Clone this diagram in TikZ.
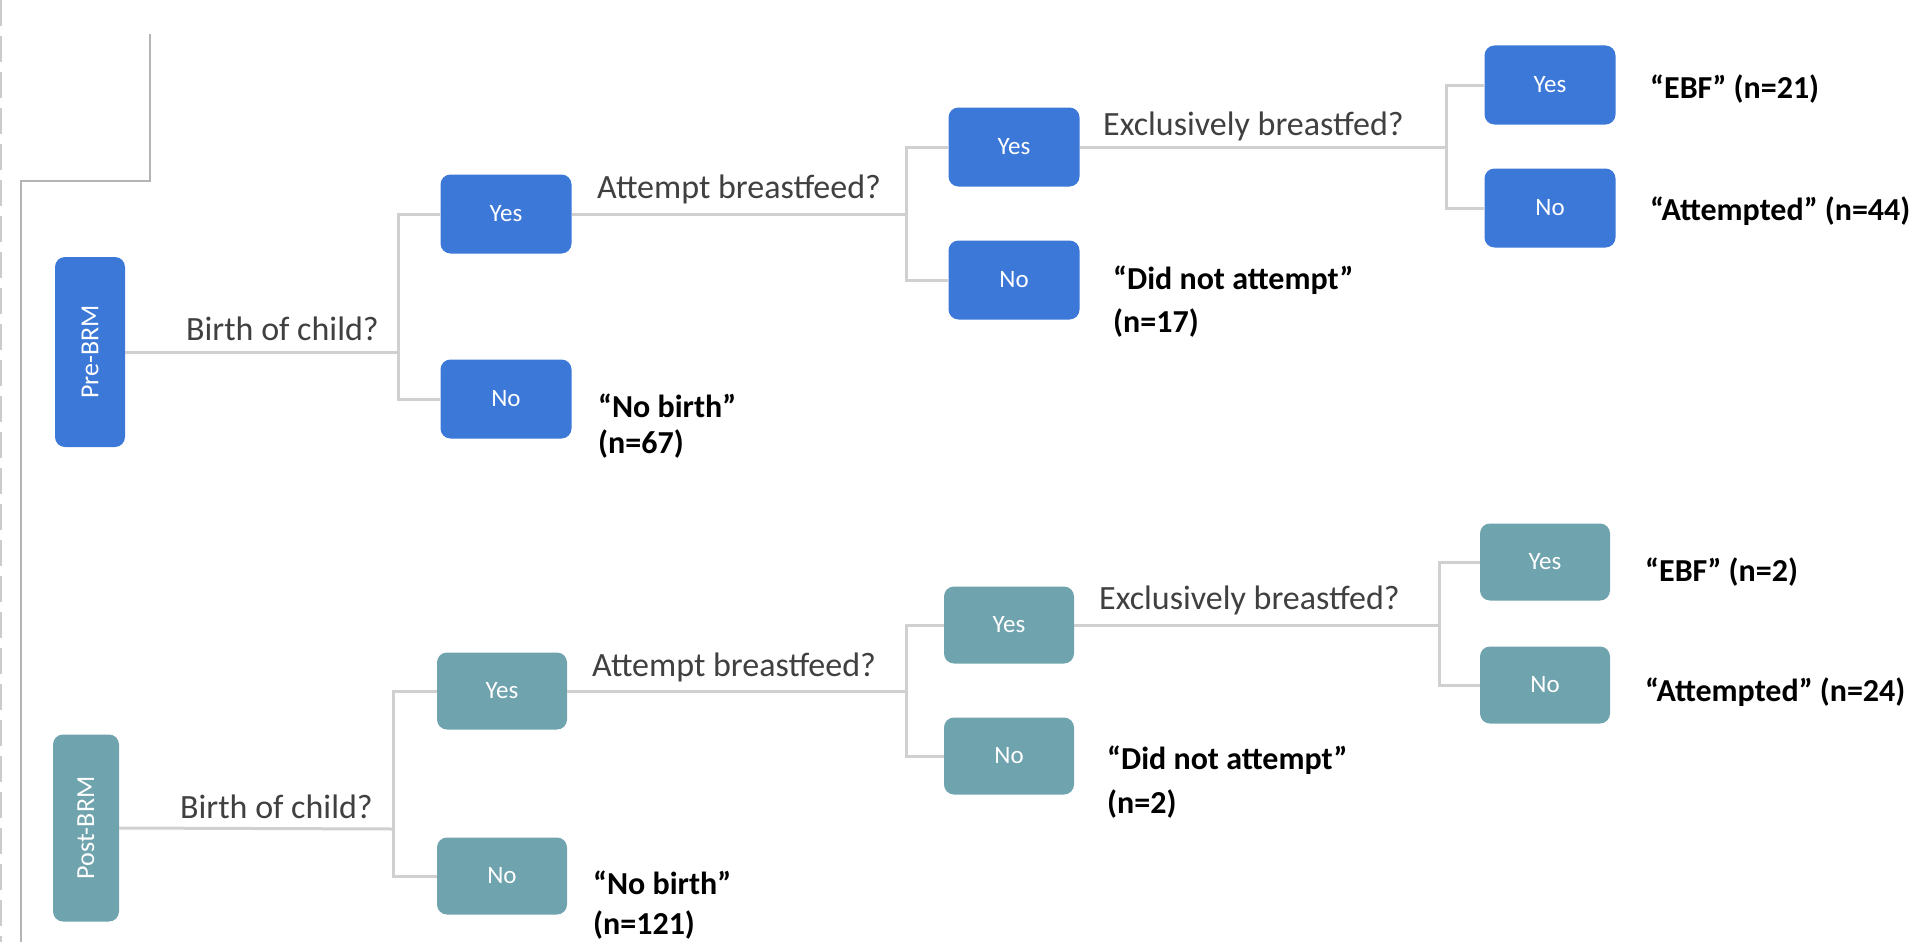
\documentclass[tikz,border=0pt]{standalone}
\usepackage{fontspec}
\usepackage{graphicx}
\setmainfont{Carlito}
\definecolor{bluebox}{HTML}{3C78D8}
\definecolor{tealbox}{HTML}{6FA3AE}
\definecolor{connline}{HTML}{D0D0D0}
\definecolor{frameg}{HTML}{B4B4B4}
\definecolor{qgray}{HTML}{404040}
\tikzset{
  choicebox/.style={rectangle, rounded corners=10pt, minimum width=131pt, minimum height=79pt,
    text=white, inner sep=0pt, font=\fontsize{25}{30}\selectfont},
  bluech/.style={choicebox, fill=bluebox},
  tealch/.style={choicebox, fill=tealbox},
  phasebox/.style={rectangle, rounded corners=10pt, minimum width=68pt, minimum height=188pt,
    text=white, inner sep=0pt, font=\fontsize{26}{30}\selectfont},
  qtext/.style={anchor=base west, inner sep=0pt, text=qgray, font=\fontsize{34}{44}\selectfont},
  restext/.style={anchor=base west, inner sep=0pt, text=black, font=\fontsize{32}{44}\selectfont\bfseries},
  restwo/.style={anchor=north west, inner sep=0pt, align=left, text=black},
  conn/.style={draw=connline, line width=3pt},
  frameline/.style={draw=frameg, line width=1.5pt}
}
\begin{document}
\begin{tikzpicture}[x=1pt,y=-1pt]
\useasboundingbox (0,0) rectangle (1921,942);
\fill[white] (0,0) rectangle (1921,942);
% page edge and frame
\draw[draw=frameg!70, line width=2.5pt, dash pattern=on 26pt off 10pt] (1,0) -- (1,942);
\draw[frameline] (150,34) |- (21,181) -- (21,942);

% ---------- Pre-BRM ----------
\node[phasebox, fill=bluebox, minimum width=70pt, minimum height=190pt] (pre) at (90,352) {\rotatebox{90}{Pre-BRM}};
\node[bluech] (yes1) at (506,214) {Yes};
\node[bluech] (no1) at (506,399) {No};
\node[bluech] (yes2) at (1014,147) {Yes};
\node[bluech] (no2) at (1014,280) {No};
\node[bluech] (yes3) at (1550,85) {Yes};
\node[bluech] (no3) at (1550,208) {No};

\coordinate (j1) at (398,352);
\coordinate (j2) at (906,214);
\coordinate (j3) at (1446,147);
\draw[conn] (pre.east) -- (j1);
\draw[conn] (yes1.west) -| (j1) |- (no1.west);
\draw[conn] (yes1.east) -- (j2);
\draw[conn] (yes2.west) -| (j2) |- (no2.west);
\draw[conn] (yes2.east) -- (j3);
\draw[conn] (yes3.west) -| (j3) |- (no3.west);

\node[qtext] (q1) at (186,340) {Birth of child?};
\node[qtext] (q2) at (597,198) {Attempt breastfeed?};
\node[qtext] (q3) at (1103,135) {Exclusively breastfed?};
\node[restext] (r1) at (1650,98) {“EBF” (n=21)};
\node[restext] (r2) at (1650,220) {“Attempted” (n=44)};
\node[restwo, font=\fontsize{32}{43}\selectfont\bfseries] (r3) at (1113,266) {“Did not attempt”\\(n=17)};
\node[restwo, font=\fontsize{32}{36}\selectfont\bfseries] (r4) at (598,394) {“No birth”\\(n=67)};

% ---------- Post-BRM ----------
\node[phasebox, fill=tealbox, minimum width=66pt, minimum height=187pt] (post) at (86,828) {\rotatebox{90}{Post-BRM}};
\node[tealch, minimum width=130pt, minimum height=77pt] (yes1b) at (502,691) {Yes};
\node[tealch, minimum width=130pt, minimum height=77pt] (no1b) at (502,876) {No};
\node[tealch, minimum width=130pt, minimum height=77pt] (yes2b) at (1009,625) {Yes};
\node[tealch, minimum width=130pt, minimum height=77pt] (no2b) at (1009,756) {No};
\node[tealch, minimum width=130pt, minimum height=77pt] (yes3b) at (1545,562) {Yes};
\node[tealch, minimum width=130pt, minimum height=77pt] (no3b) at (1545,685) {No};

\coordinate (k1) at (393,829);
\coordinate (k2) at (906,691);
\coordinate (k3) at (1439,625);
\draw[conn] (post.east) -- (k1);
\draw[conn] (yes1b.west) -| (k1) |- (no1b.west);
\draw[conn] (yes1b.east) -- (k2);
\draw[conn] (yes2b.west) -| (k2) |- (no2b.west);
\draw[conn] (yes2b.east) -- (k3);
\draw[conn] (yes3b.west) -| (k3) |- (no3b.west);

\node[qtext] (q1b) at (180,818) {Birth of child?};
\node[qtext] (q2b) at (592,676) {Attempt breastfeed?};
\node[qtext] (q3b) at (1099,609) {Exclusively breastfed?};
\node[restext] (r1b) at (1645,581) {“EBF” (n=2)};
\node[restext] (r2b) at (1645,701) {“Attempted” (n=24)};
\node[restwo, font=\fontsize{32}{44}\selectfont\bfseries] (r3b) at (1107,746) {“Did not attempt”\\(n=2)};
\node[restwo, font=\fontsize{32}{40}\selectfont\bfseries] (r4b) at (593,871) {“No birth”\\(n=121)};
\end{tikzpicture}
\end{document}
